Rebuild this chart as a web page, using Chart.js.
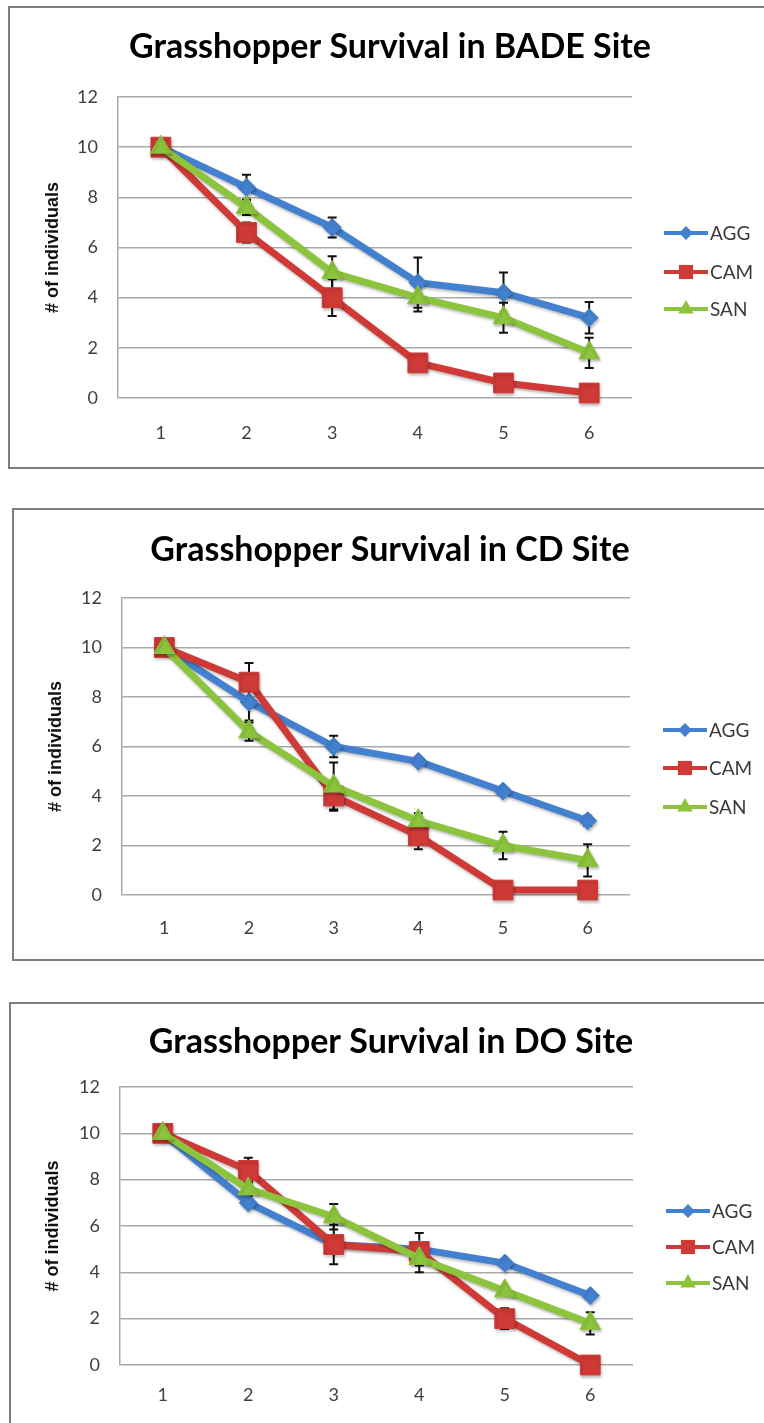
<!DOCTYPE html>
<html><head><meta charset="utf-8">
<script src="https://cdn.jsdelivr.net/npm/chart.js@4/dist/chart.umd.min.js"></script>
<style>
html,body{margin:0;padding:0;background:#fff;width:764px;height:1423px;overflow:hidden;}
.box{position:absolute;border:2px solid #7d7d7d;background:#fff;box-sizing:border-box;}
canvas{display:block;}
</style></head><body>
<div class="box" style="left:8px;top:6px;width:780px;height:463px"><canvas id="c1"></canvas></div>
<div class="box" style="left:12px;top:508px;width:780px;height:453px"><canvas id="c2"></canvas></div>
<div class="box" style="left:9px;top:1002px;width:780px;height:500px"><canvas id="c3"></canvas></div>
<script>
// ---------- DATA ----------
const categories = ['1', '2', '3', '4', '5', '6'];
const seriesNames = ['AGG', 'CAM', 'SAN'];
const yTicks = [0, 2, 4, 6, 8, 10, 12];

const titles = ['Grasshopper Survival in BADE Site', 'Grasshopper Survival in CD Site', 'Grasshopper Survival in DO Site'];
const yAxisTitle = '# of individuals';

// BADE site
const badeAGG = [10, 8.4, 6.8, 4.6, 4.2, 3.2];
const badeCAM = [10, 6.6, 4.0, 1.4, 0.6, 0.2];
const badeSAN = [10, 7.6, 5.0, 4.0, 3.2, 1.8];
const badeAGGErr = [0, 0.5, 0.4, 1.0, 0.8, 0.63];
const badeCAMErr = [0, 0.4, 0.73, 0, 0, 0];
const badeSANErr = [0, 0.3, 0.65, 0.55, 0.6, 0.6];

// CD site
const cdAGG = [10, 7.8, 6.0, 5.4, 4.2, 3.0];
const cdCAM = [10, 8.6, 4.0, 2.4, 0.2, 0.2];
const cdSAN = [10, 6.6, 4.4, 3.0, 2.0, 1.4];
const cdAGGErr = [0, 0.75, 0.43, 0, 0, 0.2];
const cdCAMErr = [0, 0.77, 0.6, 0.55, 0, 0];
const cdSANErr = [0, 0.37, 0.95, 0.3, 0.56, 0.65];

// DO site
const doAGG = [10, 7.0, 5.2, 5.0, 4.4, 3.0];
const doCAM = [10, 8.4, 5.2, 4.9, 2.0, 0.0];
const doSAN = [10, 7.6, 6.4, 4.6, 3.2, 1.8];
const doAGGErr = [0, 0, 0, 0.7, 0, 0];
const doCAMErr = [0, 0.55, 0.85, 0, 0.45, 0];
const doSANErr = [0, 0.3, 0.55, 0.6, 0, 0.48];

// ---------- STYLE / LAYOUT ----------
const colors = ['#4480d0', '#cf3a36', '#8cc43d'];
const pointStyles = ['rectRot', 'rect', 'triangle'];
const pointRadii = [9, 14, 12];
const legendRadii = [7, 10, 9];
const FONT = 'Lato, "Open Sans", sans-serif';
const TITLE_SIZE = 34;

const layouts = [
  {id: 'c1', W: 760, H: 459, area: {left: 108, right: 622, top: 89, bottom: 390}, titleY: 39, yTitleX: 43, xLabelY: 425, legendX: 654, legendY: [225, 264, 301]},
  {id: 'c2', W: 752, H: 449, area: {left: 108, right: 616, top: 88, bottom: 385}, titleY: 40, yTitleX: 42, xLabelY: 418, legendX: 649, legendY: [220, 258, 297]},
  {id: 'c3', W: 760, H: 419, area: {left: 109, right: 622, top: 83, bottom: 361}, titleY: 38, yTitleX: 42, xLabelY: 391, legendX: 655, legendY: [207, 243, 279]}
];

const siteSeries = [
  [badeAGG, badeCAM, badeSAN],
  [cdAGG, cdCAM, cdSAN],
  [doAGG, doCAM, doSAN]
];
const siteErrors = [
  [badeAGGErr, badeCAMErr, badeSANErr],
  [cdAGGErr, cdCAMErr, cdSANErr],
  [doAGGErr, doCAMErr, doSANErr]
];

function drawMarker(ctx, style, x, y, r) {
  ctx.beginPath();
  if (style === 'rectRot') {
    ctx.moveTo(x - r, y); ctx.lineTo(x, y - r); ctx.lineTo(x + r, y); ctx.lineTo(x, y + r);
  } else if (style === 'rect') {
    const s = r * Math.SQRT1_2;
    ctx.rect(x - s, y - s, 2 * s, 2 * s);
  } else {
    ctx.moveTo(x, y - r);
    ctx.lineTo(x + r * Math.sin(Math.PI / 3), y + r * 0.5);
    ctx.lineTo(x - r * Math.sin(Math.PI / 3), y + r * 0.5);
  }
  ctx.closePath();
  ctx.fill();
}

const errorBarPlugin = {
  id: 'errorBars',
  beforeDatasetsDraw(chart) {
    const ctx = chart.ctx;
    const xs = chart.scales.x, ys = chart.scales.y;
    ctx.save();
    ctx.strokeStyle = '#111';
    ctx.lineWidth = 2;
    chart.data.datasets.forEach(ds => {
      ds.errors.forEach((e, i) => {
        if (!e) return;
        const x = xs.getPixelForValue(i);
        const yt = ys.getPixelForValue(ds.data[i] + e);
        const yb = ys.getPixelForValue(ds.data[i] - e);
        ctx.beginPath();
        ctx.moveTo(x, yt); ctx.lineTo(x, yb);
        ctx.moveTo(x - 4.5, yt); ctx.lineTo(x + 4.5, yt);
        ctx.moveTo(x - 4.5, yb); ctx.lineTo(x + 4.5, yb);
        ctx.stroke();
      });
    });
    ctx.restore();
  }
};

const shadowPlugin = {
  id: 'shadow',
  beforeDatasetDraw(chart) {
    const ctx = chart.ctx;
    ctx.save();
    ctx.shadowColor = 'rgba(0,0,0,0.28)';
    ctx.shadowBlur = 3;
    ctx.shadowOffsetX = 1;
    ctx.shadowOffsetY = 2;
  },
  afterDatasetDraw(chart) {
    chart.ctx.restore();
  }
};

const legendPlugin = {
  id: 'sideLegend',
  afterDraw(chart) {
    const L = chart.options.plugins.sideLegend;
    const ctx = chart.ctx;
    ctx.save();
    chart.data.datasets.forEach((ds, i) => {
      const y = L.y[i];
      const x0 = L.x, x1 = L.x + 44;
      ctx.strokeStyle = ds.borderColor;
      ctx.lineWidth = 4;
      ctx.beginPath(); ctx.moveTo(x0, y); ctx.lineTo(x1, y); ctx.stroke();
      ctx.fillStyle = ds.borderColor;
      drawMarker(ctx, ds.pointStyle, (x0 + x1) / 2, y, legendRadii[i]);
      ctx.fillStyle = '#3a3a3a';
      ctx.font = '19px ' + FONT;
      ctx.textBaseline = 'middle';
      ctx.textAlign = 'left';
      ctx.fillText(ds.label, x1 + 2, y + 1);
    });
    ctx.restore();
  }
};

layouts.forEach((g, k) => {
  const canvas = document.getElementById(g.id);
  canvas.width = g.W; canvas.height = g.H;
  canvas.style.width = g.W + 'px'; canvas.style.height = g.H + 'px';
  const datasets = seriesNames.map((name, s) => ({
    label: name,
    data: siteSeries[k][s],
    errors: siteErrors[k][s],
    yAxisID: 'y',
    borderColor: colors[s],
    backgroundColor: colors[s],
    pointBackgroundColor: colors[s],
    pointBorderColor: colors[s],
    pointBorderWidth: 1,
    borderWidth: 7,
    pointStyle: pointStyles[s],
    pointRadius: pointRadii[s],
    pointHoverRadius: pointRadii[s],
    tension: 0,
    clip: false,
    order: 3 - s
  }));
  const half = TITLE_SIZE * 0.6;
  new Chart(canvas, {
    type: 'line',
    data: {labels: categories, datasets},
    options: {
      responsive: false,
      animation: false,
      devicePixelRatio: 1,
      layout: {padding: 0},
      plugins: {
        legend: {display: false},
        tooltip: {enabled: false},
        title: {
          display: true,
          text: titles[k],
          color: '#000',
          font: {family: FONT, size: TITLE_SIZE, weight: 'bold', lineHeight: 1.2},
          padding: {top: g.titleY - half, bottom: g.area.top - g.titleY - half}
        },
        sideLegend: {x: g.legendX, y: g.legendY}
      },
      scales: {
        x: {
          type: 'category',
          offset: true,
          grid: {display: false, drawTicks: false},
          border: {display: false},
          ticks: {color: '#404040', font: {family: FONT, size: 18}, padding: g.xLabelY - g.area.bottom - 11, maxRotation: 0},
          afterFit(s) { s.height = g.H - g.area.bottom; }
        },
        y: {
          position: 'left',
          min: 0, max: 12,
          afterBuildTicks(s) { s.ticks = yTicks.map(v => ({value: v})); },
          grid: {color: '#a9a9a9', lineWidth: 1.5, drawTicks: false},
          border: {display: true, color: '#a9a9a9', width: 1.5},
          ticks: {color: '#404040', font: {family: FONT, size: 18}, padding: 20},
          title: {
            display: true, text: yAxisTitle, color: '#111',
            font: {family: '"Liberation Sans", Arial, sans-serif', size: 18, weight: 'bold', lineHeight: 1.2},
            padding: {top: g.yTitleX - 11, bottom: 0}
          },
          afterFit(s) { s.width = g.area.left; }
        },
        legendSpace: {
          type: 'linear',
          position: 'right',
          display: true,
          grid: {display: false, drawTicks: false},
          border: {display: false},
          ticks: {display: false},
          afterFit(s) { s.width = g.W - g.area.right; }
        }
      }
    },
    plugins: [errorBarPlugin, shadowPlugin, legendPlugin]
  });
});
</script>
</body></html>
